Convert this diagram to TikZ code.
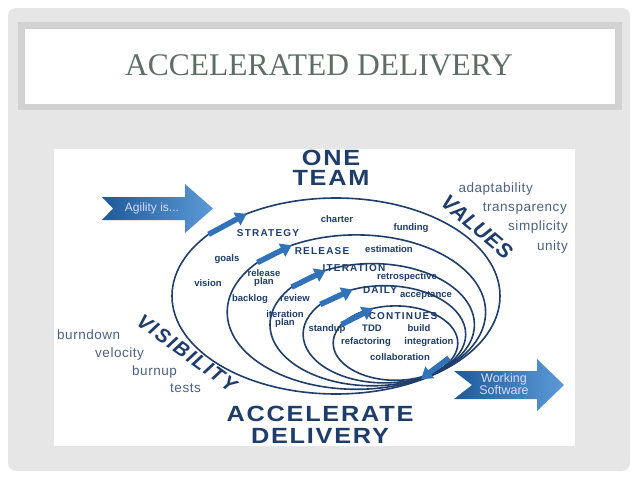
\documentclass[tikz,border=0pt]{standalone}
\usepackage{fontspec}
\setmainfont{Liberation Serif}
\setsansfont{Liberation Sans}
\newfontfamily\widesans[FakeStretch=1.15,LetterSpace=8]{Liberation Sans}
\newfontfamily\valsans[LetterSpace=2]{Liberation Sans}
\newfontfamily\vissans[LetterSpace=9]{Liberation Sans}
\newfontfamily\labsans[LetterSpace=12]{Liberation Sans}
\newfontfamily\lstsans[LetterSpace=4]{Liberation Sans}
\usetikzlibrary{arrows.meta,calc}
\definecolor{slidegray}{HTML}{E6E6E6}
\definecolor{bandgray}{HTML}{D2D2D2}
\definecolor{titlecol}{HTML}{5E6E66}
\definecolor{navy}{HTML}{1E3D6B}
\definecolor{linecol}{HTML}{1F3E6A}
\definecolor{slate}{HTML}{4C6282}
\definecolor{abluelight}{HTML}{5C9AD6}
\definecolor{abluedark}{HTML}{1E5A9A}
\definecolor{amid}{HTML}{3272B8}
\begin{document}
\begin{tikzpicture}[x=1pt,y=-1pt,
  loopline/.style={draw=linecol,line width=1.6pt},
  small/.style={font=\fontsize{9.5}{8.5}\selectfont\sffamily\bfseries,text=navy,inner sep=0pt,align=center,anchor=mid},
  caplab/.style={font=\fontsize{10}{12}\selectfont\labsans\bfseries,text=navy,inner sep=0pt},
  bigcap/.style={font=\fontsize{22}{20}\selectfont\widesans\bfseries,text=navy,inner sep=0pt,align=center},
  listitem/.style={font=\fontsize{13.5}{14}\selectfont\lstsans,text=slate,inner sep=0pt},
  looparrow/.style={draw=amid,line width=5.5pt,-{Triangle[width=14pt,length=11pt]}},
  bigarrow/.style={left color=abluedark,right color=abluelight,draw=none},
  arrowtext/.style={font=\fontsize{12.5}{10.5}\selectfont\sffamily,text=white!85!blue,inner sep=0pt,align=center}
]
\useasboundingbox (0,0) rectangle (638,479);
\fill[white] (0,0) rectangle (638,479);
\fill[slidegray,rounded corners=8pt] (8,8) rectangle (630,471);
% title box
\fill[bandgray] (18,22) rectangle (622,110);
\fill[white] (25,29) rectangle (615,104);
\node[font=\fontsize{31.5}{34}\selectfont,text=titlecol,inner sep=0pt] (title) at (319,65) {ACCELERATED DELIVERY};
% picture area
\fill[white] (54,149) rectangle (575,446);
% loops (homothetic ellipses about P)
\coordinate (P) at (432,372);
\coordinate (c1) at (336,296);
\coordinate (c2) at (356.4,312.1);
\coordinate (c3) at (372.2,324.7);
\coordinate (c4) at (384.4,334.3);
\coordinate (c5) at (395.5,343.1);
\draw[loopline] (c1) ellipse [x radius=164pt, y radius=98pt];
\draw[loopline] (c2) ellipse [x radius=129.2pt, y radius=77.2pt];
\draw[loopline] (c3) ellipse [x radius=102.2pt, y radius=61.1pt];
\draw[loopline] (c4) ellipse [x radius=81.3pt, y radius=48.6pt];
\draw[loopline] (c5) ellipse [x radius=62.3pt, y radius=37.2pt];
% arrows on loops
\coordinate (a1s) at ($(c1)+(219:164 and 98)$);
\coordinate (a1e) at ($(c1)+(237:164 and 98)$);
\coordinate (a2s) at ($(c2)+(220:129.2 and 77.2)$);
\coordinate (a2e) at ($(c2)+(240:129.2 and 77.2)$);
\coordinate (a3s) at ($(c3)+(218:102.2 and 61.1)$);
\coordinate (a3e) at ($(c3)+(243:102.2 and 61.1)$);
\coordinate (a4s) at ($(c4)+(218:81.3 and 48.6)$);
\coordinate (a4e) at ($(c4)+(247:81.3 and 48.6)$);
\coordinate (a5s) at ($(c5)+(210:62.3 and 37.2)$);
\coordinate (a5e) at ($(c5)+(249:62.3 and 37.2)$);
\coordinate (a6s) at (449,358);
\coordinate (a6e) at (421,379);
\draw[looparrow] (a1s) -- (a1e);
\draw[looparrow] (a2s) -- (a2e);
\draw[looparrow] (a3s) -- (a3e);
\draw[looparrow] (a4s) -- (a4e);
\draw[looparrow] (a5s) -- (a5e);
\draw[looparrow] (a6s) -- (a6e);
% big arrows
\path[bigarrow] (102,197) -- (185,197) -- (185,184) -- (213,208.5) -- (185,233) -- (185,220) -- (102,220) -- (113,208.5) -- cycle;
\node[arrowtext,font=\fontsize{12}{10.5}\selectfont\sffamily] (agility) at (152,208.5) {Agility is...};
\path[bigarrow] (454,371) -- (537,371) -- (537,359) -- (564,385) -- (537,411) -- (537,399) -- (454,399) -- (472,385) -- cycle;
\node[arrowtext] (working) at (504,384) {Working\\Software};
% big captions
\node[bigcap] (oneteam) at (331,168) {ONE\\TEAM};
\node[bigcap,font=\fontsize{22}{22}\selectfont\widesans\bfseries] (accel) at (320,425) {ACCELERATE\\DELIVERY};
\node[font=\fontsize{21}{21}\selectfont\valsans\bfseries\itshape,text=navy,inner sep=0pt,rotate=-40] (values) at (477,227) {VALUES};
\node[font=\fontsize{20}{20}\selectfont\vissans\bfseries\itshape,text=navy,inner sep=0pt,rotate=-36] (visibility) at (187,353) {VISIBILITY};
% value list
\node[listitem,anchor=mid east] (adapt) at (533,190) {adaptability};
\node[listitem,anchor=mid east] (transp) at (567,209) {transparency};
\node[listitem,anchor=mid east] (simpl) at (568,228) {simplicity};
\node[listitem,anchor=mid east] (unity) at (568,248) {unity};
% visibility list
\node[listitem,anchor=mid west] (burndown) at (57,337) {burndown};
\node[listitem,anchor=mid west] (velocity) at (95,355) {velocity};
\node[listitem,anchor=mid west] (burnup) at (132,373) {burnup};
\node[listitem,anchor=mid west] (tests) at (170,390) {tests};
% loop captions
\node[caplab] (strategy) at (268,233) {STRATEGY};
\node[caplab] (release) at (322,251) {RELEASE};
\node[caplab] (iteration) at (354,268) {ITERATION};
\node[caplab] (daily) at (380,290) {DAILY};
\node[caplab] (continues) at (403,316) {CONTINUES};
% small labels
\node[small] (charter) at (337,220) {charter};
\node[small] (funding) at (411,228) {funding};
\node[small] (goals) at (227,259) {goals};
\node[small] (vision) at (208,284) {vision};
\node[small] (estimation) at (389,250) {estimation};
\node[small,anchor=center] (relplan) at (264,278) {release\\plan};
\node[small] (backlog) at (250,299) {backlog};
\node[small] (review) at (295,299) {review};
\node[small] (retro) at (407,277) {retrospective};
\node[small,anchor=center] (itplan) at (285,319) {iteration\\plan};
\node[small] (accept) at (426,295) {acceptance};
\node[small] (standup) at (327,329) {standup};
\node[small] (tdd) at (372,329) {TDD};
\node[small] (build) at (419,329) {build};
\node[small] (refact) at (366,342) {refactoring};
\node[small] (integ) at (429,342) {integration};
\node[small] (collab) at (400,358) {collaboration};
\end{tikzpicture}
\end{document}
